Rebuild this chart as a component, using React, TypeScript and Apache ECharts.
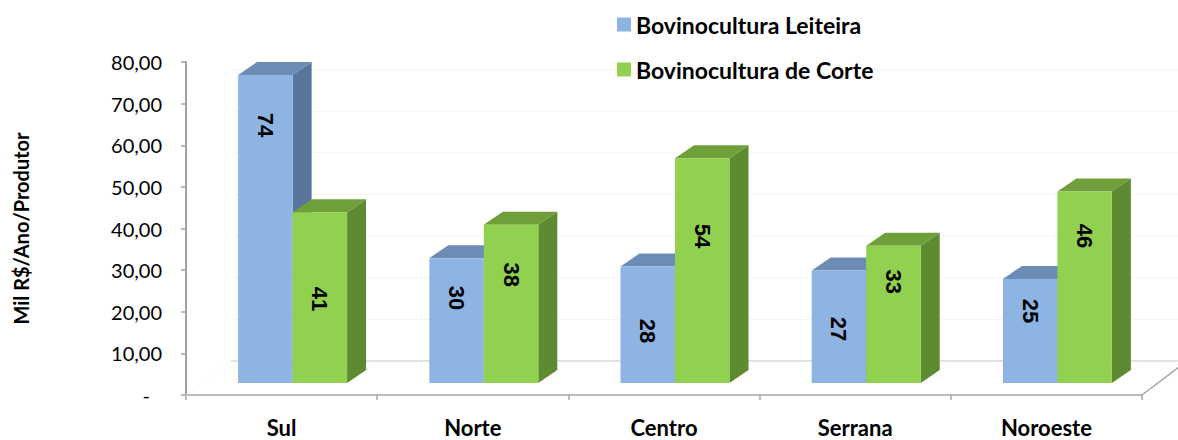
import React, { useEffect, useRef } from "react";
import * as echarts from "echarts";

const categories = ["Sul", "Norte", "Centro", "Serrana", "Noroeste"];
const leiteira = [74, 30, 28, 27, 25];
const corte = [41, 38, 54, 33, 46];
// where (in axis units) each bar's value label sits
const leiteiraLabelAt = [62, 20.4, 12.5, 13, 17.3];
const corteLabelAt = [20.2, 26, 35.3, 24.3, 35.3];
const yTicks = [0, 10, 20, 30, 40, 50, 60, 70, 80];

const FONT = "Lato, 'Open Sans', sans-serif";
const NARROW = "'Liberation Sans Narrow', 'Liberation Sans', Arial, sans-serif";

const BLUE = { front: "#8EB4E3", top: "#6C8CB6", side: "#58759C" };
const GREEN = { front: "#92D050", top: "#6F9F3B", side: "#5E8A32" };

const LIFT = 12; // depth offset of bar row above floor front
const SHIFT = 11;
const DX = 19;
const DY = 13;
const FLOOR_DX = 45;
const FLOOR_DY = 34;

function makeBarRenderer(which: number, col: { front: string; top: string; side: string }) {
  return (params: any, api: any) => {
    const i = api.value(0);
    const v = api.value(1);
    const la = api.value(2);
    const base = api.coord([i, 0]);
    const topP = api.coord([i, v]);
    const labP = api.coord([i, la]);
    const band = api.size([1, 0])[0];
    const w = band * 0.285;
    const cx = base[0] + SHIFT;
    const x0 = which === 0 ? cx - w : cx;
    const x1 = x0 + w;
    const y0 = base[1] - LIFT;
    const h = base[1] - topP[1];
    const y1 = y0 - h;
    const ly = labP[1] - LIFT;
    return {
      type: "group",
      children: [
        {
          type: "polygon",
          shape: { points: [[x1, y0], [x1 + DX, y0 - DY], [x1 + DX, y1 - DY], [x1, y1]] },
          style: { fill: col.side },
        },
        {
          type: "polygon",
          shape: { points: [[x0, y1], [x0 + DX, y1 - DY], [x1 + DX, y1 - DY], [x1, y1]] },
          style: { fill: col.top },
        },
        {
          type: "rect",
          shape: { x: x0, y: y1, width: w, height: h },
          style: { fill: col.front },
        },
        {
          type: "text",
          x: (x0 + x1) / 2,
          y: ly,
          rotation: -Math.PI / 2,
          style: {
            text: String(v),
            fill: "#000",
            font: `bold 22px ${NARROW}`,
            align: "center",
            verticalAlign: "middle",
          },
        },
      ],
    };
  };
}

function renderFloor(params: any, api: any) {
  const cs = params.coordSys;
  const left = cs.x;
  const right = cs.x + cs.width;
  const y0 = api.coord([0, 0])[1];
  const children: any[] = [];
  yTicks.forEach((t) => {
    if (t === 80) return;
    const y = api.coord([0, t])[1] - FLOOR_DY;
    children.push({
      type: "line",
      shape: { x1: left + FLOOR_DX, y1: y, x2: right + FLOOR_DX, y2: y },
      style: { stroke: t === 0 ? "#D9D9D9" : "#F4F4F4", lineWidth: t === 0 ? 1.5 : 1 },
    });
  });
  const yTop = api.coord([0, 80])[1] - FLOOR_DY;
  children.push({
    type: "line",
    shape: { x1: left + FLOOR_DX + 6, y1: y0 - FLOOR_DY, x2: left + FLOOR_DX + 6, y2: yTop + 40 },
    style: { stroke: "#F4F4F4", lineWidth: 1 },
  });
  children.push({
    type: "line",
    shape: { x1: left, y1: y0, x2: left + FLOOR_DX, y2: y0 - FLOOR_DY },
    style: { stroke: "#EEEEEE", lineWidth: 1, lineDash: [2, 3] },
  });
  children.push({
    type: "line",
    shape: { x1: right, y1: y0, x2: right + FLOOR_DX, y2: y0 - FLOOR_DY },
    style: { stroke: "#A6A6A6", lineWidth: 1.5 },
  });
  return { type: "group", children };
}

export default function App() {
  const ref = useRef<HTMLDivElement>(null);
  useEffect(() => {
    if (!ref.current) return;
    const chart = echarts.init(ref.current, undefined, { renderer: "svg" });
    chart.setOption({
      animation: false,
      backgroundColor: "#FFFFFF",
      grid: { left: 186, right: 36, top: 62, bottom: 45, containLabel: false },
      legend: {
        orient: "vertical",
        left: 612,
        top: 8,
        itemWidth: 14,
        itemHeight: 14,
        itemGap: 22,
        icon: "rect",
        data: ["Bovinocultura Leiteira", "Bovinocultura de Corte"],
        textStyle: { fontFamily: FONT, fontWeight: "bold", fontSize: 23, color: "#000", lineHeight: 22 },
      },
      xAxis: {
        type: "category",
        data: categories,
        axisLine: { show: true, lineStyle: { color: "#A6A6A6", width: 1.5 } },
        axisTick: { show: true, length: 5, lineStyle: { color: "#A6A6A6", width: 1.5 } },
        axisLabel: { fontFamily: FONT, fontWeight: "bold", fontSize: 22, color: "#000", margin: 21 },
        splitLine: { show: false },
      },
      yAxis: {
        type: "value",
        min: 0,
        max: 80,
        interval: 10,
        name: "Mil R$/Ano/Produtor",
        nameLocation: "middle",
        nameRotate: 90,
        nameGap: 155,
        nameTextStyle: { fontFamily: FONT, fontWeight: "bold", fontSize: 20, color: "#000" },
        axisLine: { show: true, lineStyle: { color: "#A0A0A0", width: 2 } },
        axisTick: { show: true, length: 5, lineStyle: { color: "#A0A0A0", width: 1.5 } },
        axisLabel: {
          fontFamily: FONT,
          fontSize: 20,
          color: "#000",
          margin: 24,
          formatter: (v: number) => (v === 0 ? "{d|-}" : v.toFixed(2).replace(".", ",")),
          rich: { d: { fontFamily: FONT, fontSize: 20, color: "#000", padding: [0, 12, 0, 0] } },
        },
        splitLine: { show: false },
      },
      series: [
        {
          type: "custom",
          name: "floor",
          data: [[0, 0]],
          renderItem: renderFloor,
          silent: true,
          z: 1,
          encode: { x: 0, y: 1 },
        },
        {
          type: "custom",
          name: "Bovinocultura Leiteira",
          itemStyle: { color: BLUE.front },
          data: leiteira.map((v, i) => [i, v, leiteiraLabelAt[i]]),
          renderItem: makeBarRenderer(0, BLUE),
          encode: { x: 0, y: 1 },
          z: 2,
        },
        {
          type: "custom",
          name: "Bovinocultura de Corte",
          itemStyle: { color: GREEN.front },
          data: corte.map((v, i) => [i, v, corteLabelAt[i]]),
          renderItem: makeBarRenderer(1, GREEN),
          encode: { x: 0, y: 1 },
          z: 3,
        },
      ],
    });
    return () => chart.dispose();
  }, []);
  return <div ref={ref} style={{ width: 1178, height: 440, position: "absolute", left: 0, top: 0 }} />;
}
